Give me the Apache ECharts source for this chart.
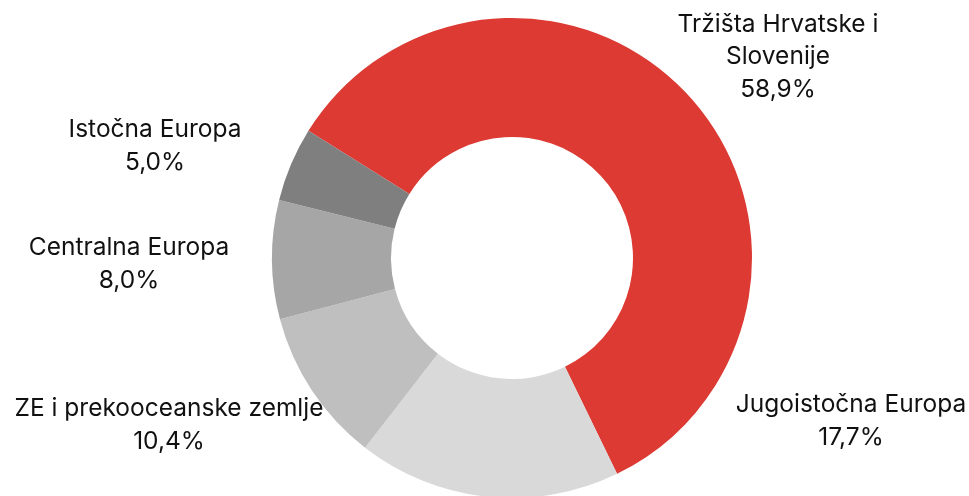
<!DOCTYPE html>
<html>
<head>
<meta charset="utf-8">
<script src="https://cdn.jsdelivr.net/npm/echarts@6/dist/echarts.min.js"></script>
<style>
  html, body { margin: 0; padding: 0; background: #fff; }
  #chart { width: 969px; height: 496px; }
</style>
</head>
<body>
<div id="chart"></div>
<script>
// udjeli po regijama (%)
var categories = ["Tržišta Hrvatske i Slovenije", "Jugoistočna Europa", "ZE i prekooceanske zemlje", "Centralna Europa", "Istočna Europa"];
var shares = [58.9, 17.7, 10.4, 8.0, 5.0];
var colors = ["#DC3A33", "#D9D9D9", "#BFBFBF", "#A6A6A6", "#7F7F7F"];

// label anchor points (px), same order as categories
var labelPos = [[778, 57], [851, 421], [169, 425], [129, 264], [155, 146]];

var chart = echarts.init(document.getElementById("chart"));
chart.setOption({
  animation: false,
  series: [
    {
      type: "pie",
      center: [512, 258],
      radius: [121, 240],
      startAngle: 148,
      clockwise: true,
      silent: true,
      avoidLabelOverlap: false,
      labelLine: { show: false },
      label: {
        show: true,
        position: "outside",
        color: "#111",
        fontFamily: "Inter",
        fontSize: 24.5,
        lineHeight: 32.5,
        align: "center",
        formatter: function (p) {
          var name = p.name.replace(" i Slovenije", " i\nSlovenije");
          return name + "\n" + p.value.toFixed(1).replace(".", ",") + "%";
        }
      },
      labelLayout: function (params) {
        var pos = labelPos[params.dataIndex];
        return { x: pos[0], y: pos[1], align: "center", verticalAlign: "middle" };
      },
      data: categories.map(function (c, i) {
        return { name: c, value: shares[i], itemStyle: { color: colors[i] } };
      })
    }
  ]
});
</script>
</body>
</html>
